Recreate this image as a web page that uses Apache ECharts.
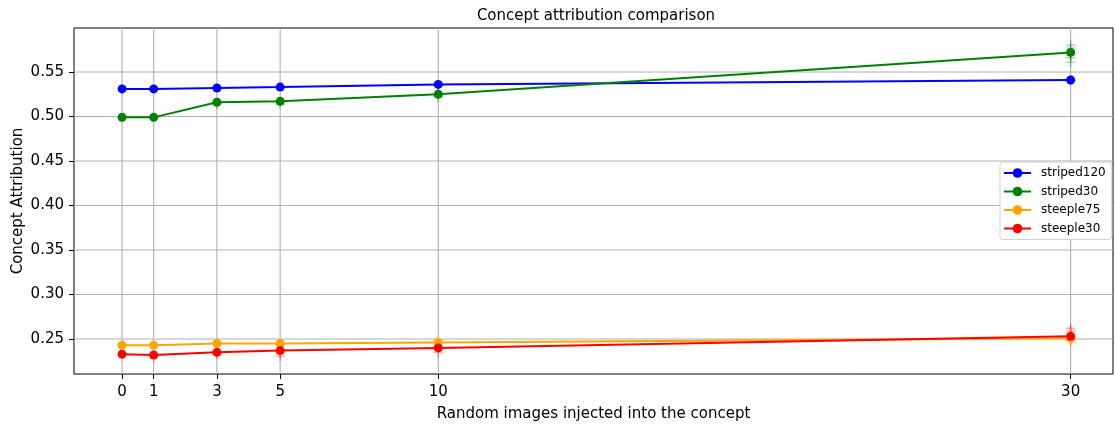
<!DOCTYPE html>
<html><head><meta charset="utf-8">
<script src="https://cdn.jsdelivr.net/npm/echarts@6/dist/echarts.min.js"></script>
<style>html,body{margin:0;padding:0;background:#fff}#c{width:1115px;height:424px}</style>
</head><body><div id="c"></div>
<script>
const xValues = [0, 1, 3, 5, 10, 30];
const xTicks = [0, 1, 3, 5, 10, 30];
const yTicks = [0.25, 0.30, 0.35, 0.40, 0.45, 0.50, 0.55];
const striped120 = [0.531, 0.531, 0.532, 0.533, 0.536, 0.541];
const striped30 = [0.499, 0.499, 0.516, 0.517, 0.525, 0.572];
const steeple75 = [0.243, 0.243, 0.245, 0.245, 0.246, 0.251];
const steeple30 = [0.233, 0.232, 0.235, 0.237, 0.240, 0.253];
// faint individual-run samples (x, value)
const striped30Samples = [[30,0.580],[30,0.577],[30,0.566],[30,0.561],[30,0.569],[10,0.522],[5,0.514],[3,0.514]];
const striped120Samples = [[30,0.540],[10,0.535]];
const steeple75Samples = [[30,0.246],[30,0.256],[10,0.249],[5,0.243]];
const steeple30Samples = [[30,0.259],[30,0.249],[30,0.262],[10,0.235],[5,0.231],[5,0.234],[3,0.233],[1,0.230]];

const X_MIN = -1.52, X_MAX = 31.34, Y_MIN = 0.2107, Y_MAX = 0.5994;
const names = ['striped120','striped30','steeple75','steeple30'];
const colors = ['#0000ff','#008000','#ffa500','#ff0000'];
const lines = [striped120, striped30, steeple75, steeple30];
const samples = [striped120Samples, striped30Samples, steeple75Samples, steeple30Samples];
const plus = 'path://M-1,0L1,0M0,-1L0,1';
const font = 'DejaVu Sans';

const series = [];
const gridStyle = {color: '#b0b0b0', width: 1.1};
xTicks.forEach(v => series.push({
  type: 'line', symbol: 'none', silent: true, z: 0, animation: false,
  data: [[v, Y_MIN], [v, Y_MAX]], lineStyle: gridStyle
}));
yTicks.forEach(v => series.push({
  type: 'line', symbol: 'none', silent: true, z: 0, animation: false,
  data: [[X_MIN, v], [X_MAX, v]], lineStyle: gridStyle
}));
names.forEach((n, i) => {
  series.push({
    name: n + '_s', type: 'scatter', symbol: plus, symbolSize: 10,
    data: samples[i], silent: true, z: 1,
    itemStyle: {color: 'none', borderColor: colors[i], borderWidth: 1.6, opacity: 0.3}
  });
});
names.forEach((n, i) => {
  series.push({
    name: n, type: 'line', symbol: 'circle', symbolSize: 9, z: 3,
    data: xValues.map((x, j) => [x, lines[i][j]]),
    lineStyle: {color: colors[i], width: 2},
    itemStyle: {color: colors[i], borderWidth: 0},
    animation: false
  });
});

const chart = echarts.init(document.getElementById('c'));
chart.setOption({
  animation: false,
  backgroundColor: '#fff',
  textStyle: {fontFamily: font},
  title: {text: 'Concept attribution comparison', left: 591, top: 4, textAlign: 'center',
    textStyle: {fontFamily: font, fontSize: 15, fontWeight: 'normal', color: '#000'}},
  legend: {
    data: names, orient: 'vertical', left: 1000, top: 162,
    backgroundColor: '#fff', borderColor: '#d0d0d0', borderWidth: 1, borderRadius: 3,
    padding: [5, 6, 5, 3], itemGap: 6.5, itemWidth: 27, itemHeight: 12,
    textStyle: {fontFamily: font, fontSize: 12, color: '#000', padding: [0, 0, 0, 5]}
  },
  grid: {left: 74, right: 2, top: 28, bottom: 50, show: true, borderColor: '#000', borderWidth: 1,
    backgroundColor: 'transparent', outerBoundsMode: 'none', containLabel: false},
  xAxis: {
    type: 'value', min: X_MIN, max: X_MAX,
    name: 'Random images injected into the concept', nameLocation: 'middle', nameGap: 33,
    nameMoveOverlap: false,
    nameTextStyle: {fontFamily: font, fontSize: 15, color: '#000'},
    axisLine: {show: false, onZero: false},
    axisTick: {show: true, customValues: xTicks, length: 5, lineStyle: {color: '#000'}},
    axisLabel: {customValues: xTicks, fontFamily: font, fontSize: 15, color: '#000', margin: 11},
    splitLine: {show: false}
  },
  yAxis: {
    type: 'value', min: Y_MIN, max: Y_MAX,
    name: 'Concept Attribution', nameLocation: 'middle', nameGap: 48,
    nameMoveOverlap: false,
    nameTextStyle: {fontFamily: font, fontSize: 15, color: '#000'},
    axisLine: {show: false, onZero: false},
    axisTick: {show: true, customValues: yTicks, length: 5, lineStyle: {color: '#000'}},
    axisLabel: {customValues: yTicks, formatter: v => v.toFixed(2), fontFamily: font, fontSize: 15, color: '#000', margin: 10},
    splitLine: {show: false}
  },
  series: series
});
</script></body></html>
